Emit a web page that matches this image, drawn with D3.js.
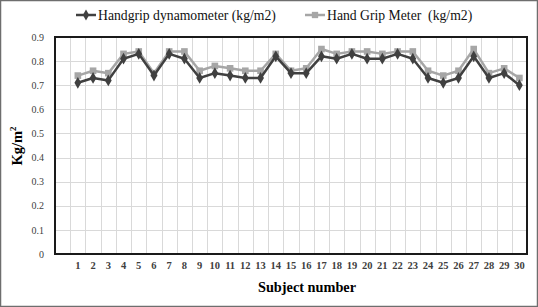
<!DOCTYPE html>
<html>
<head>
<meta charset="UTF-8">
<script src="https://d3js.org/d3.v7.min.js"></script>
<style>
  body { margin: 0; background: #fff; }
  svg { display: block; font-family: "Liberation Serif", "DejaVu Serif", serif; }
</style>
</head>
<body>
<svg id="chart"></svg>
<script>
    // data
    var subjects = d3.range(1, 31);
    var dynamometer = [0.71, 0.73, 0.72, 0.81, 0.83, 0.74, 0.83, 0.81, 0.73, 0.75,
                       0.74, 0.73, 0.73, 0.82, 0.75, 0.75, 0.82, 0.81, 0.83, 0.81,
                       0.81, 0.83, 0.81, 0.73, 0.71, 0.73, 0.82, 0.73, 0.75, 0.70];
    var gripMeter = [0.74, 0.76, 0.75, 0.83, 0.84, 0.75, 0.84, 0.84, 0.76, 0.78,
                     0.77, 0.76, 0.76, 0.83, 0.76, 0.77, 0.85, 0.83, 0.84, 0.84,
                     0.83, 0.84, 0.84, 0.76, 0.74, 0.76, 0.85, 0.75, 0.77, 0.73];
    var yTicks = [0, 0.1, 0.2, 0.3, 0.4, 0.5, 0.6, 0.7, 0.8, 0.9];
    var seriesNames = ["Handgrip dynamometer (kg/m2)", "Hand Grip Meter  (kg/m2)"];

    var width = 538, height = 307;
    var plot = { left: 55, right: 527, top: 37, bottom: 254 };

    var svg = d3.select("#chart").attr("width", width).attr("height", height);

    // outer frame
    svg.append("rect")
        .attr("x", 0.5).attr("y", 0.5)
        .attr("width", width - 1).attr("height", height - 1)
        .attr("fill", "#fff").attr("stroke", "#6e6e6e").attr("stroke-width", 1.5);

    // one blank band in front of subject 1, like the original
    var x = d3.scaleBand()
        .domain([0].concat(subjects))
        .range([plot.left, plot.right]);

    var y = d3.scaleLinear()
        .domain([0, 0.9])
        .range([plot.bottom, plot.top]);

    // gridlines
    var grid = svg.append("g").attr("stroke", "#d9d9d9").attr("stroke-width", 1);
    grid.selectAll("line.h")
        .data(yTicks.slice(1, -1))
        .enter().append("line")
        .attr("x1", plot.left).attr("x2", plot.right)
        .attr("y1", function(d) { return Math.round(y(d)) + 0.5; })
        .attr("y2", function(d) { return Math.round(y(d)) + 0.5; });
    grid.selectAll("line.v")
        .data(subjects)
        .enter().append("line")
        .attr("y1", plot.top).attr("y2", plot.bottom)
        .attr("x1", function(d) { return Math.round(x(d)) + 0.5; })
        .attr("x2", function(d) { return Math.round(x(d)) + 0.5; });

    // plot border
    svg.append("rect")
        .attr("x", plot.left).attr("y", plot.top)
        .attr("width", plot.right - plot.left).attr("height", plot.bottom - plot.top)
        .attr("fill", "none").attr("stroke", "#1a1a1a").attr("stroke-width", 2);

    // y axis
    var yAxis = svg.append("g")
        .attr("transform", "translate(" + (plot.left - 8) + ",0)")
        .call(d3.axisLeft(y).tickValues(yTicks).tickSize(0).tickFormat(function(d) {
            return d === 0 ? "0" : d3.format(".1f")(d);
        }));
    yAxis.select(".domain").remove();
    yAxis.selectAll("text")
        .attr("fill", "#404040").attr("font-size", 10)
        .attr("font-family", "Liberation Serif");

    // x axis
    var xAxis = svg.append("g")
        .attr("transform", "translate(0," + (plot.bottom + 5) + ")")
        .call(d3.axisBottom(x).tickValues(subjects).tickSize(0));
    xAxis.select(".domain").remove();
    xAxis.selectAll("text")
        .attr("fill", "#404040").attr("font-size", 10.5).attr("font-weight", "bold")
        .attr("font-family", "Liberation Serif");

    // axis titles
    svg.append("text")
        .attr("x", 307).attr("y", 292)
        .attr("text-anchor", "middle")
        .attr("font-size", 14.3).attr("font-weight", "bold")
        .text("Subject number");

    svg.append("text")
        .attr("transform", "translate(22,146) rotate(-90)")
        .attr("text-anchor", "middle")
        .attr("font-size", 14.5).attr("font-weight", "bold")
        .text("Kg/m")
        .append("tspan").attr("font-size", 9).attr("dy", -6).text("2");

    // series
    var series = [
        { name: seriesNames[1], values: gripMeter, color: "#a6a6a6", symbol: d3.symbolSquare, size: 44 },
        { name: seriesNames[0], values: dynamometer, color: "#404040", symbol: d3.symbolDiamond, size: 40 }
    ];

    var line = d3.line()
        .x(function(d, i) { return x(subjects[i]) + x.bandwidth() / 2; })
        .y(function(d) { return y(d); });

    series.forEach(function(s) {
        svg.append("path")
            .datum(s.values)
            .attr("d", line)
            .attr("fill", "none")
            .attr("stroke", s.color)
            .attr("stroke-width", 2.5)
            .attr("stroke-linejoin", "round");
        svg.selectAll(null)
            .data(s.values)
            .enter().append("path")
            .attr("d", d3.symbol().type(s.symbol).size(s.size))
            .attr("transform", function(d, i) {
                return "translate(" + (x(subjects[i]) + x.bandwidth() / 2) + "," + y(d) + ")";
            })
            .attr("fill", s.color);
    });

    // legend
    var legend = [
        { name: seriesNames[0], color: "#404040", symbol: d3.symbolDiamond, size: 34, x: 76 },
        { name: seriesNames[1], color: "#a6a6a6", symbol: d3.symbolSquare, size: 40, x: 305 }
    ];
    legend.forEach(function(l) {
        var g = svg.append("g").attr("transform", "translate(" + l.x + ",15)");
        g.append("line").attr("x1", 0).attr("x2", 20)
            .attr("stroke", l.color).attr("stroke-width", 2.5);
        g.append("path").attr("d", d3.symbol().type(l.symbol).size(l.size))
            .attr("transform", "translate(10,0)").attr("fill", l.color);
        g.append("text").attr("x", 22).attr("y", 5)
            .attr("font-size", 13.7).attr("fill", "#111")
            .style("white-space", "pre")
            .text(l.name);
    });
</script>
</body>
</html>
